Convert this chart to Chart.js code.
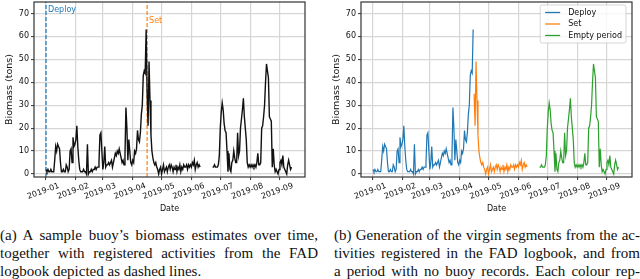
<!DOCTYPE html>
<html>
<head>
<meta charset="utf-8">
<script src="https://cdn.jsdelivr.net/npm/chart.js@4.4.1/dist/chart.umd.min.js"></script>
<style>
  html, body { margin:0; padding:0; width:640px; height:279px; overflow:hidden; background:#fff; }
  .wrap { position:absolute; top:0; height:220px; }
  #wrapA { left:0; width:320px; }
  #wrapB { left:327px; width:313px; }
  .cap { position:absolute; top:226px; font-family:"Liberation Serif", serif; font-size:15px; line-height:18px; color:#111; }
  .cap div { white-space:nowrap; overflow:hidden; text-align:justify; text-align-last:justify; }
  .cap div.last { text-align-last:left; }
  #capA { left:0; width:318px; }
  #capB { left:334px; width:306px; }
</style>
</head>
<body>
<div class="wrap" id="wrapA"><canvas id="chartA" width="320" height="220"></canvas></div>
<div class="wrap" id="wrapB"><canvas id="chartB" width="313" height="220"></canvas></div>

<div class="cap" id="capA">
  <div>(a) A sample buoy’s biomass estimates over time,</div>
  <div>together with registered activities from the FAD</div>
  <div class="last">logbook depicted as dashed lines.</div>
</div>
<div class="cap" id="capB">
  <div>(b) Generation of the virgin segments from the ac-</div>
  <div>tivities registered in the FAD logbook, and from</div>
  <div>a period with no buoy records. Each colour rep-</div>
  <div class="last">resents the resulting individual virgin segments.</div>
</div>

<script>
// x axis = days since 2019-01-01
const monthTicks = [0, 31, 59, 90, 120, 151, 181, 212, 243];
const monthLabels = ['2019-01', '2019-02', '2019-03', '2019-04', '2019-05', '2019-06', '2019-07', '2019-08', '2019-09'];
const yTicks = [0, 10, 20, 30, 40, 50, 60, 70];

// logbook events (dashed lines on the left plot)
const eventNames = ['Deploy', 'Set'];
const eventDays = [0, 105];
const eventTextY = [70, 65];
const eventColors = ['#1f77b4', '#ff7f0e'];

// biomass, one value per day, per segment
const deployStart = 0;
const deployBiomass = [
  2, 1, 2, 1, 1, 2, 1, 1, 1, 6,
  12, 10, 13, 12, 11, 5, 1, 1, 2, 1,
  1, 4, 3, 1, 2, 10, 11, 5, 16, 12,
  13, 15, 21, 12, 6, 2, 1, 1, 1, 2,
  1, 1, 0, 13, 0, 1, 1, 2, 1, 2,
  2, 3, 2, 3, 3, 5, 17, 18, 10, 2,
  5, 12, 3, 4, 4, 5, 4, 5, 6, 3,
  5, 7, 9, 8, 10, 9, 11, 9, 7, 5,
  6, 4, 8, 29, 20, 6, 15, 10, 5, 4,
  6, 5, 10, 9, 11, 19, 15, 14, 18, 26,
  30, 43, 45, 44, 63
];
const setStart = 105;
const setBiomass = [
  35, 21, 49, 32, 17, 10, 7, 5, 4, 5, 3, 2, 0, 2, 3,
  0, 2, 4, 1, 2, 3, 1, 3, 4, 2, 4, 3, 1, 3, 2, 4, 1, 3, 2, 4,
  1, 3, 2, 4, 3, 3, 4, 2, 4, 3, 4, 3, 5, 4, 6, 2, 4, 5, 3, 4, 3
];
const emptyStart = 173;
const emptyBiomass = [
  3, 3, 4, 3, 3, 3, 4,
  8, 20, 27, 31, 28, 22, 19, 18, 10, 1,
  9, 2, 1, 5, 6, 10, 7, 5, 5, 18,
  8, 10, 20, 24, 28, 33, 25, 20, 15, 5,
  3, 4, 3, 4, 3, 4, 3, 4, 3, 5,
  9, 4, 4, 5, 20, 21, 25, 30, 40, 48,
  45, 42, 25, 24, 23, 3, 11, 4, 1, 2,
  1, 0, 2, 5, 6, 4, 8, 3, 2, 1,
  0, 4, 6, 4, 2, 3
];

const FONT = 'DejaVu Sans';
const TXT = '#111';
Chart.defaults.font.family = FONT;
Chart.defaults.color = TXT;

function pts(start, vals) {
  return vals.map((v, i) => ({x: start + i, y: v}));
}

const gridOpts = {color: '#d6d6d6', lineWidth: 1.2, tickLength: 3, tickColor: '#333', tickWidth: 1};

function makeScales() {
  return {
    x: {
      type: 'linear', min: -12.5, max: 269,
      afterBuildTicks: s => { s.ticks = monthTicks.map(v => ({value: v})); },
      afterFit: s => { s.height = 43; s.paddingLeft = 0; s.paddingRight = 0; },
      ticks: {
        autoSkip: false,
        minRotation: 20, maxRotation: 20, padding: 1, labelOffset: 13,
        font: {size: 8}, color: TXT,
        callback: (v, i) => monthLabels[i]
      },
      grid: gridOpts,
      border: {display: false},
      title: {display: true, text: 'Date', font: {size: 8}, color: TXT, padding: {top: 0, bottom: 6}}
    },
    y: {
      min: -1.3, max: 75,
      afterBuildTicks: s => { s.ticks = yTicks.map(v => ({value: v})); },
      afterFit: s => { s.width = 34; s.paddingTop = 0; s.paddingBottom = 0; },
      ticks: {padding: 2, font: {size: 8}, color: TXT},
      grid: gridOpts,
      border: {display: false},
      title: {display: true, text: 'Biomass (tons)', font: {size: 9.5}, color: TXT, padding: {top: 4, bottom: 0}}
    }
  };
}

// axes frame (matplotlib spines)
const framePlugin = {
  id: 'frame',
  afterDatasetsDraw(chart) {
    const a = chart.chartArea, ctx = chart.ctx;
    ctx.save();
    ctx.strokeStyle = '#333';
    ctx.lineWidth = 1.2;
    ctx.strokeRect(a.left, a.top, a.right - a.left, a.bottom - a.top);
    ctx.restore();
  }
};

// text next to the dashed event lines
const eventTextPlugin = {
  id: 'eventText',
  afterDatasetsDraw(chart) {
    const ctx = chart.ctx, xs = chart.scales.x, ys = chart.scales.y;
    ctx.save();
    ctx.font = '8px "' + FONT + '"';
    ctx.textAlign = 'left';
    ctx.textBaseline = 'bottom';
    eventNames.forEach((name, i) => {
      ctx.fillStyle = eventColors[i];
      ctx.fillText(name, xs.getPixelForValue(eventDays[i]) + 2, ys.getPixelForValue(eventTextY[i]));
    });
    ctx.restore();
  }
};

// matplotlib-like legend in the upper right corner
const boxLegendPlugin = {
  id: 'boxLegend',
  afterDraw(chart) {
    const ctx = chart.ctx, a = chart.chartArea;
    const items = chart.data.datasets.filter(d => d.label);
    ctx.save();
    ctx.font = '8px "' + FONT + '"';
    let tw = 0;
    items.forEach(d => { tw = Math.max(tw, ctx.measureText(d.label).width); });
    const w = 28 + tw + 4, h = 38;
    const bx = a.right - 6 - w, by = a.top + 3;
    ctx.beginPath();
    ctx.roundRect(bx, by, w, h, 2);
    ctx.fillStyle = 'rgba(255,255,255,0.8)';
    ctx.fill();
    ctx.strokeStyle = '#cccccc';
    ctx.lineWidth = 0.8;
    ctx.stroke();
    ctx.textBaseline = 'middle';
    items.forEach((d, i) => {
      const yy = by + 7.5 + i * 11.5;
      ctx.strokeStyle = d.borderColor;
      ctx.lineWidth = 1.3;
      ctx.beginPath();
      ctx.moveTo(bx + 5, yy);
      ctx.lineTo(bx + 20, yy);
      ctx.stroke();
      ctx.fillStyle = TXT;
      ctx.fillText(d.label, bx + 28, yy);
    });
    ctx.restore();
  }
};

const lineDefaults = {pointRadius: 0, borderWidth: 1.2, tension: 0, fill: false};

// (a) whole biomass series in black + dashed logbook events
const seriesA = pts(deployStart, deployBiomass).concat(pts(setStart, setBiomass));
new Chart(document.getElementById('chartA').getContext('2d'), {
  type: 'line',
  data: {
    datasets: [
      Object.assign({}, lineDefaults, {data: seriesA, borderColor: '#111', borderWidth: 1.4}),
      Object.assign({}, lineDefaults, {data: pts(emptyStart, emptyBiomass), borderColor: '#111', borderWidth: 1.4}),
      ...eventDays.map((d, i) => Object.assign({}, lineDefaults, {
        data: [{x: d, y: -1.3}, {x: d, y: 75}],
        borderColor: eventColors[i], borderDash: [4, 2]
      }))
    ]
  },
  options: {
    responsive: false,
    animation: false,
    layout: {padding: {left: 0, top: 2, right: 15, bottom: 0}},
    scales: makeScales(),
    plugins: {legend: {display: false}, tooltip: {enabled: false}}
  },
  plugins: [framePlugin, eventTextPlugin]
});

// (b) virgin segments coloured by origin
new Chart(document.getElementById('chartB').getContext('2d'), {
  type: 'line',
  data: {
    datasets: [
      Object.assign({}, lineDefaults, {label: 'Deploy', data: pts(deployStart, deployBiomass), borderColor: '#1f77b4'}),
      Object.assign({}, lineDefaults, {label: 'Set', data: pts(setStart, setBiomass), borderColor: '#ff7f0e'}),
      Object.assign({}, lineDefaults, {label: 'Empty period', data: pts(emptyStart, emptyBiomass), borderColor: '#2ca02c'})
    ]
  },
  options: {
    responsive: false,
    animation: false,
    layout: {padding: {left: 0, top: 2, right: 8, bottom: 0}},
    scales: makeScales(),
    plugins: {legend: {display: false}, tooltip: {enabled: false}}
  },
  plugins: [framePlugin, boxLegendPlugin]
});

// keep every caption line inside its column
document.querySelectorAll('.cap div').forEach(el => {
  let size = 15;
  while (el.scrollWidth > el.clientWidth && size > 11) {
    size -= 0.25;
    el.style.fontSize = size + 'px';
  }
});
</script>
</body>
</html>
